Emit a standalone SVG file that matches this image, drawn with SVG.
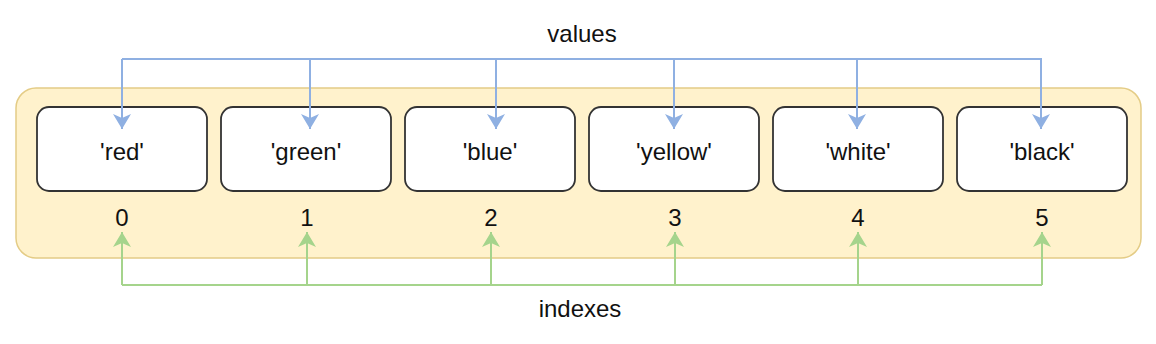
<svg xmlns="http://www.w3.org/2000/svg" width="1156" height="344" viewBox="0 0 1156 344">
<style>
.box{fill:#ffffff;stroke:#333333;stroke-width:1.8}
.t{font-family:"Liberation Sans",Arial,sans-serif;font-size:24px;fill:#111111;text-anchor:middle}
.blue{fill:none;stroke:#8fb0e2;stroke-width:2}
.green{fill:none;stroke:#a5d48c;stroke-width:2}
</style>
<defs>
<marker id="ab" markerUnits="userSpaceOnUse" markerWidth="16" markerHeight="18" viewBox="0 0 16 18" refX="15" refY="9" orient="auto">
<path d="M0,0 L15,9 L0,18 L4,9 Z" fill="#8fb0e2"/>
</marker>
<marker id="ag" markerUnits="userSpaceOnUse" markerWidth="16" markerHeight="18" viewBox="0 0 16 18" refX="15" refY="9" orient="auto">
<path d="M0,0 L15,9 L0,18 L4,9 Z" fill="#a5d48c"/>
</marker>
</defs>
<rect id="array" x="16" y="88" width="1125" height="170" rx="20" fill="#fff2cc" stroke="#e4cc86" stroke-width="1.5"/>
<g id="node0"><rect class="box" x="37" y="107" width="170" height="84" rx="12"/><text class="t" x="122" y="160">'red'</text><text class="t" x="122" y="226">0</text></g>
<g id="node1"><rect class="box" x="221" y="107" width="170" height="84" rx="12"/><text class="t" x="306" y="160">'green'</text><text class="t" x="307" y="226">1</text></g>
<g id="node2"><rect class="box" x="405" y="107" width="170" height="84" rx="12"/><text class="t" x="490" y="160">'blue'</text><text class="t" x="491" y="226">2</text></g>
<g id="node3"><rect class="box" x="589" y="107" width="170" height="84" rx="12"/><text class="t" x="674" y="160">'yellow'</text><text class="t" x="675" y="226">3</text></g>
<g id="node4"><rect class="box" x="773" y="107" width="170" height="84" rx="12"/><text class="t" x="858" y="160">'white'</text><text class="t" x="858" y="226">4</text></g>
<g id="node5"><rect class="box" x="957" y="107" width="170" height="84" rx="12"/><text class="t" x="1042" y="160">'black'</text><text class="t" x="1042" y="226">5</text></g>
<g id="labels">
<text class="t" x="582" y="42">values</text>
<text class="t" x="580" y="317">indexes</text>
</g>
<g id="connectors">
<path class="blue" d="M122,59 H1042"/>
<path class="blue" d="M122,59 V129" marker-end="url(#ab)"/>
<path class="blue" d="M310,59 V129" marker-end="url(#ab)"/>
<path class="blue" d="M496,59 V129" marker-end="url(#ab)"/>
<path class="blue" d="M674,59 V129" marker-end="url(#ab)"/>
<path class="blue" d="M857,59 V129" marker-end="url(#ab)"/>
<path class="blue" d="M1041,59 V129" marker-end="url(#ab)"/>
<path class="green" d="M122,285 H1042"/>
<path class="green" d="M122,285 V232" marker-end="url(#ag)"/>
<path class="green" d="M307,285 V232" marker-end="url(#ag)"/>
<path class="green" d="M491,285 V232" marker-end="url(#ag)"/>
<path class="green" d="M675,285 V232" marker-end="url(#ag)"/>
<path class="green" d="M858,285 V232" marker-end="url(#ag)"/>
<path class="green" d="M1042,285 V232" marker-end="url(#ag)"/>
</g>
</svg>
